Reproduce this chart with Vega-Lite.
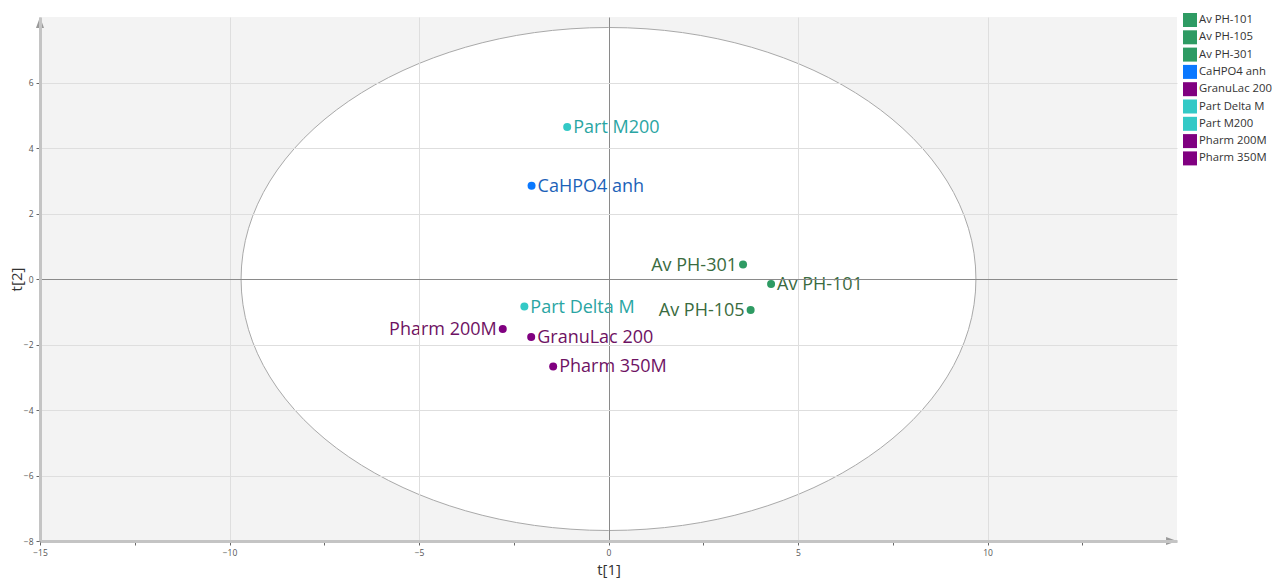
{
  "$schema": "https://vega.github.io/schema/vega-lite/v6.json",
  "autosize": {"type": "none"},
  "padding": {"left": 40, "top": 17, "right": 98, "bottom": 37},
  "width": 1137,
  "height": 524,
  "background": "white",
  "config": {
    "view": {"stroke": null, "fill": "#f3f3f3"},
    "font": "Open Sans"
  },
  "datasets": {
    "scores": [
      {"name": "Av PH-101", "t1": 4.29, "t2": -0.15},
      {"name": "Av PH-105", "t1": 3.75, "t2": -0.95},
      {"name": "Av PH-301", "t1": 3.55, "t2": 0.44},
      {"name": "CaHPO4 anh", "t1": -2.03, "t2": 2.85},
      {"name": "GranuLac 200", "t1": -2.04, "t2": -1.77},
      {"name": "Part Delta M", "t1": -2.22, "t2": -0.84},
      {"name": "Part M200", "t1": -1.09, "t2": 4.64},
      {"name": "Pharm 200M", "t1": -2.79, "t2": -1.53},
      {"name": "Pharm 350M", "t1": -1.46, "t2": -2.67}
    ]
  },
  "layer": [
    {
      "description": "Hotelling T2 ellipse, drawn as one elliptical symbol centred on the origin",
      "data": {"values": [{}]},
      "mark": {
        "type": "point",
        "shape": "M-1,0A1,0.6845,0,1,0,1,0A1,0.6845,0,1,0,-1,0Z",
        "size": 540000,
        "filled": true,
        "fill": "white",
        "fillOpacity": 1,
        "stroke": "#a9a9a9",
        "strokeWidth": 1,
        "opacity": 1
      },
      "encoding": {
        "x": {"datum": 0, "type": "quantitative"},
        "y": {"datum": 0, "type": "quantitative"}
      }
    },
    {
      "data": {"name": "scores"},
      "mark": {"type": "circle", "size": 64, "opacity": 1},
      "encoding": {
        "x": {
          "field": "t1",
          "type": "quantitative",
          "title": "t[1]",
          "scale": {"domain": [-15, 15], "nice": false, "zero": false},
          "axis": {
            "zindex": 1,
            "values": [-15, -12.5, -10, -7.5, -5, -2.5, 0, 2.5, 5, 7.5, 10, 12.5],
            "labelExpr": "datum.value % 5 === 0 ? datum.label : ''",
            "labelFont": "Open Sans",
            "labelFontSize": 8.5,
            "labelColor": "#555555",
            "labelPadding": 3,
            "labelFlush": false,
            "tickSize": 4,
            "tickColor": "#666666",
            "domainColor": "#c4c4c4",
            "domainWidth": 3,
            "grid": true,
            "gridColor": {"condition": {"test": "datum.value === 0", "value": "#8a8a8a"}, "value": "#dedede"},
            "gridOpacity": {"condition": {"test": "datum.value % 5 !== 0", "value": 0}, "value": 1},
            "titleFont": "Open Sans",
            "titleFontSize": 15,
            "titleFontWeight": "normal",
            "titleColor": "#333333",
            "titlePadding": 6
          }
        },
        "y": {
          "field": "t2",
          "type": "quantitative",
          "title": "t[2]",
          "scale": {"domain": [-8, 8], "nice": false, "zero": false},
          "axis": {
            "zindex": 1,
            "values": [-8, -7, -6, -5, -4, -3, -2, -1, 0, 1, 2, 3, 4, 5, 6, 7],
            "labelExpr": "datum.value % 2 === 0 ? datum.label : ''",
            "labelFont": "Open Sans",
            "labelFontSize": 8.5,
            "labelColor": "#555555",
            "labelPadding": 3,
            "labelFlush": false,
            "tickSize": 4,
            "tickColor": "#666666",
            "domainColor": "#c4c4c4",
            "domainWidth": 3,
            "grid": true,
            "gridColor": {"condition": {"test": "datum.value === 0", "value": "#8a8a8a"}, "value": "#dedede"},
            "gridOpacity": {"condition": {"test": "datum.value % 2 !== 0", "value": 0}, "value": 1},
            "titleFont": "Open Sans",
            "titleFontSize": 15,
            "titleFontWeight": "normal",
            "titleColor": "#333333",
            "titlePadding": -1
          }
        },
        "color": {
          "field": "name",
          "type": "nominal",
          "scale": {
            "domain": ["Av PH-101", "Av PH-105", "Av PH-301", "CaHPO4 anh", "GranuLac 200", "Part Delta M", "Part M200", "Pharm 200M", "Pharm 350M"],
            "range": ["#2e9b63", "#2e9b63", "#2e9b63", "#0a78ff", "#800080", "#33c9c6", "#33c9c6", "#800080", "#800080"]
          },
          "legend": {
            "title": null,
            "orient": "none",
            "legendX": 1143,
            "legendY": -4,
            "symbolType": "square",
            "symbolSize": 196,
            "symbolStrokeWidth": 0,
            "symbolOpacity": 1,
            "labelFont": "Open Sans",
            "labelFontSize": 11.3,
            "labelColor": "#333333",
            "labelOffset": 2,
            "labelLimit": 200,
            "rowPadding": 3.3,
            "padding": 0
          }
        }
      }
    },
    {
      "data": {"name": "scores"},
      "transform": [{"filter": {"field": "name", "oneOf": ["Av PH-301", "Av PH-105", "Pharm 200M"]}}],
      "mark": {"type": "text", "align": "right", "baseline": "middle", "dx": -6, "dy": 1, "fontSize": 18, "font": "Open Sans"},
      "encoding": {
        "x": {"field": "t1", "type": "quantitative"},
        "y": {"field": "t2", "type": "quantitative"},
        "text": {"field": "name"},
        "color": {
          "field": "name",
          "type": "nominal",
          "scale": {
            "domain": ["Av PH-101", "Av PH-105", "Av PH-301", "CaHPO4 anh", "GranuLac 200", "Part Delta M", "Part M200", "Pharm 200M", "Pharm 350M"],
            "range": ["#3a6b40", "#3a6b40", "#3a6b40", "#1c62b8", "#6e1263", "#2aa5a3", "#2aa5a3", "#6e1263", "#6e1263"]
          },
          "legend": null
        }
      }
    },
    {
      "data": {"name": "scores"},
      "transform": [{"filter": {"not": {"field": "name", "oneOf": ["Av PH-301", "Av PH-105", "Pharm 200M"]}}}],
      "mark": {"type": "text", "align": "left", "baseline": "middle", "dx": 6, "dy": 1, "fontSize": 18, "font": "Open Sans"},
      "encoding": {
        "x": {"field": "t1", "type": "quantitative"},
        "y": {"field": "t2", "type": "quantitative"},
        "text": {"field": "name"},
        "color": {
          "field": "name",
          "type": "nominal",
          "scale": {
            "domain": ["Av PH-101", "Av PH-105", "Av PH-301", "CaHPO4 anh", "GranuLac 200", "Part Delta M", "Part M200", "Pharm 200M", "Pharm 350M"],
            "range": ["#3a6b40", "#3a6b40", "#3a6b40", "#1c62b8", "#6e1263", "#2aa5a3", "#2aa5a3", "#6e1263", "#6e1263"]
          },
          "legend": null
        }
      }
    },
    {
      "description": "Arrow head at the top of the t[2] axis",
      "data": {"values": [{}]},
      "mark": {"type": "point", "shape": "M0,0L-1.4,3.8L1.4,3.8Z", "size": 33, "filled": true, "fill": "#9a9a9a", "opacity": 1, "strokeWidth": 0},
      "encoding": {
        "x": {"datum": -15, "type": "quantitative"},
        "y": {"datum": 8, "type": "quantitative"}
      }
    },
    {
      "description": "Arrow head at the right end of the t[1] axis",
      "data": {"values": [{}]},
      "mark": {"type": "point", "shape": "M0,0L-3.8,-1.4L-3.8,1.4Z", "size": 33, "filled": true, "fill": "#9a9a9a", "opacity": 1, "strokeWidth": 0},
      "encoding": {
        "x": {"datum": 15, "type": "quantitative"},
        "y": {"datum": -8, "type": "quantitative"}
      }
    }
  ],
  "resolve": {"scale": {"color": "independent"}}
}
